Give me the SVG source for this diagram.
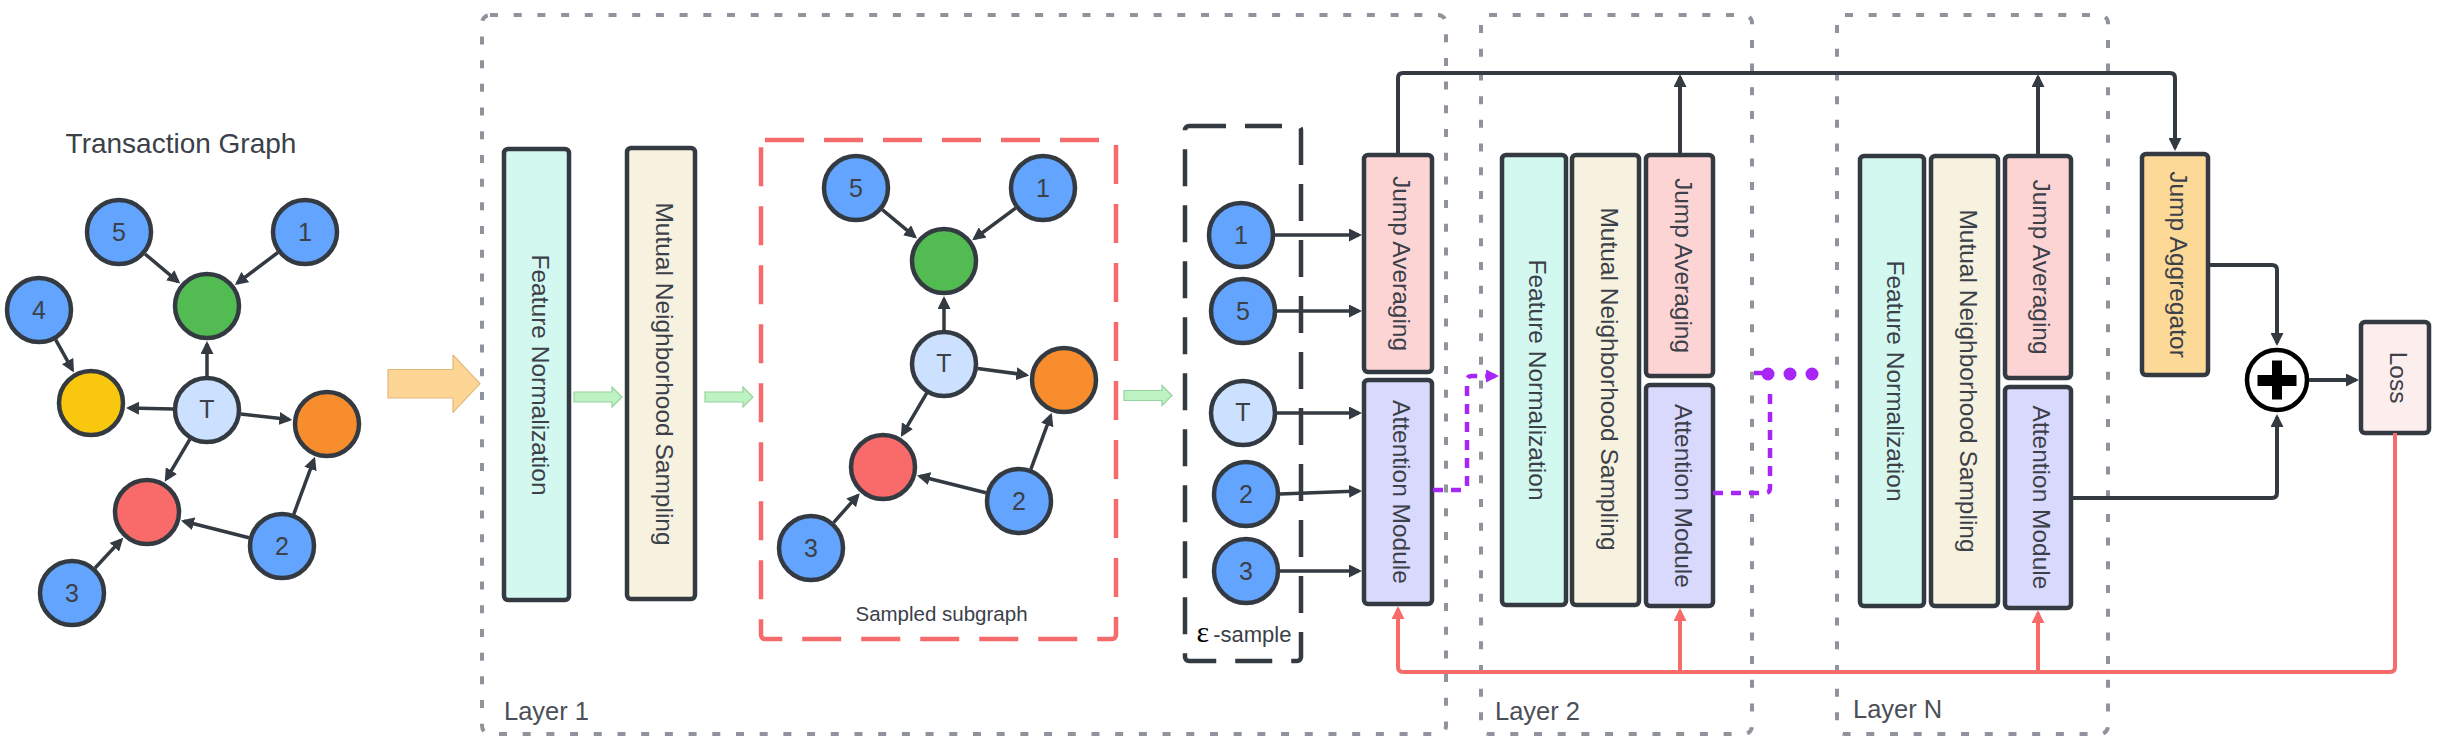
<svg xmlns="http://www.w3.org/2000/svg" width="2439" height="746" viewBox="0 0 2439 746">
<style>
text{font-family:"Liberation Sans",Arial,sans-serif;fill:#3b4049}
.lbl{font-size:24.5px;text-anchor:middle}
.num{font-size:25px;text-anchor:middle;dominant-baseline:central}
.nd{stroke:#343a41;stroke-width:4.5}
.blue{fill:#63a4ff}.tn{fill:#cce0ff}.grn{fill:#52bc52}.yel{fill:#f9c80e}.org{fill:#f78d2c}.red{fill:#f96a6a}
.box{stroke:#343a41;stroke-width:4.5}
.fn{fill:#d3f8ef}.mns{fill:#f6f2df}.ja{fill:#fdd4d4}.am{fill:#d9d9fd}
.layer{fill:none;stroke:#8f939b;stroke-width:4;stroke-dasharray:8 15.7}
.edge{fill:none;stroke:#343a41;stroke-width:3.5;marker-end:url(#ah)}
.conn{fill:none;stroke:#343a41;stroke-width:4}
.rline{fill:none;stroke:#f76b6b;stroke-width:4}
.pl{fill:none;stroke:#a725f5;stroke-width:4.5;stroke-dasharray:10 8}
.garrow{fill:#bdf2c3;stroke:#98d29f;stroke-width:1.2}
</style>
<defs>
<marker id="ah" viewBox="0 0 13 13" refX="10" refY="6.5" markerWidth="13" markerHeight="13" markerUnits="userSpaceOnUse" orient="auto"><path d="M0,0 L13,6.5 L0,13 z" fill="#343a41"/></marker>
<marker id="ahr" viewBox="0 0 13 13" refX="10" refY="6.5" markerWidth="13" markerHeight="13" markerUnits="userSpaceOnUse" orient="auto"><path d="M0,0 L13,6.5 L0,13 z" fill="#f76b6b"/></marker>
<marker id="ahp" viewBox="0 0 13 13" refX="10" refY="6.5" markerWidth="13" markerHeight="13" markerUnits="userSpaceOnUse" orient="auto"><path d="M0,0 L13,6.5 L0,13 z" fill="#a725f5"/></marker>
</defs>

<!-- Layer frames -->
<g id="layer1"><rect class="layer" x="482" y="15" width="964" height="719" rx="8"/><text x="504" y="720" style="font-size:25.5px;fill:#4a4f58">Layer 1</text></g>
<g id="layer2"><rect class="layer" x="1481" y="15" width="271" height="719" rx="8"/><text x="1495" y="720" style="font-size:25.5px;fill:#4a4f58">Layer 2</text></g>
<g id="layerN"><rect class="layer" x="1837" y="15" width="271" height="719" rx="8"/><text x="1853" y="718" style="font-size:25.5px;fill:#4a4f58">Layer N</text></g>

<!-- Transaction graph -->
<g id="transaction-graph">
<text x="181" y="153" style="font-size:28px;text-anchor:middle">Transaction Graph</text>
<g id="tg-edges">
<line class="edge" x1="145" y1="254" x2="177.9" y2="281.6"/>
<line class="edge" x1="277.9" y1="252.5" x2="237.3" y2="283.1"/>
<line class="edge" x1="55.6" y1="339.7" x2="72.5" y2="369.8"/>
<line class="edge" x1="207" y1="376" x2="207" y2="344"/>
<line class="edge" x1="173" y1="409" x2="129" y2="408"/>
<line class="edge" x1="240.8" y1="414" x2="289.3" y2="419.6"/>
<line class="edge" x1="189.8" y1="439.3" x2="166.3" y2="479.2"/>
<line class="edge" x1="249" y1="537.7" x2="183.9" y2="521.3"/>
<line class="edge" x1="293.8" y1="514.1" x2="313.9" y2="459.6"/>
<line class="edge" x1="95.1" y1="568" x2="121.2" y2="539.9"/>
</g>
<g id="tg-n5"><circle class="nd blue" cx="119" cy="232" r="32"/><text class="num" x="119" y="232">5</text></g>
<g id="tg-n1"><circle class="nd blue" cx="305" cy="232" r="32"/><text class="num" x="305" y="232">1</text></g>
<g id="tg-n4"><circle class="nd blue" cx="39" cy="310" r="32"/><text class="num" x="39" y="310">4</text></g>
<g id="tg-green"><circle class="nd grn" cx="207" cy="306" r="32"/></g>
<g id="tg-yellow"><circle class="nd yel" cx="91" cy="403" r="32"/></g>
<g id="tg-T"><circle class="nd tn" cx="207" cy="410" r="32"/><text class="num" x="207" y="409">T</text></g>
<g id="tg-orange"><circle class="nd org" cx="327" cy="424" r="32"/></g>
<g id="tg-red"><circle class="nd red" cx="147" cy="512" r="32"/></g>
<g id="tg-n2"><circle class="nd blue" cx="282" cy="546" r="32"/><text class="num" x="282" y="546">2</text></g>
<g id="tg-n3"><circle class="nd blue" cx="72" cy="593" r="32"/><text class="num" x="72" y="593">3</text></g>
</g>

<!-- Big input arrow -->
<g id="input-arrow"><path d="M388,369.5 H453 V355 L480,383.7 L453,412.4 V398 H388 Z" fill="#fdd696" stroke="#e2ba7c" stroke-width="1.2" stroke-linejoin="round"/></g>

<!-- Layer 1 blocks -->
<g id="l1-fn"><rect class="box fn" x="504" y="149" width="65" height="451" rx="4"/><text class="lbl" transform="translate(531.5,375) rotate(90)">Feature Normalization</text></g>
<g id="l1-mns"><rect class="box mns" x="627" y="148" width="68" height="451" rx="4"/><text class="lbl" transform="translate(656,374) rotate(90)">Mutual Neighborhood Sampling</text></g>

<!-- green arrows -->
<g id="green-arrows">
<path class="garrow" d="M574,392 H612 V387 L622,397 L612,407 V402 H574 Z"/>
<path class="garrow" d="M705,392 H743 V387 L753,397 L743,407 V402 H705 Z"/>
<path class="garrow" d="M1124,390.5 H1162 V385.5 L1172,395.5 L1162,405.5 V400.5 H1124 Z"/>
</g>

<!-- Sampled subgraph -->
<g id="sampled-subgraph">
<rect x="761" y="140" width="355" height="499" rx="4" fill="none" stroke="#f56a6a" stroke-width="4.5" stroke-dasharray="39 20"/>
<text x="941.5" y="621" style="font-size:20.5px;text-anchor:middle">Sampled subgraph</text>
<g id="sg-edges">
<line class="edge" x1="882.2" y1="209.7" x2="914.7" y2="236.7"/>
<line class="edge" x1="1015.6" y1="208.2" x2="974.6" y2="238.5"/>
<line class="edge" x1="944" y1="330" x2="944" y2="299"/>
<line class="edge" x1="977.7" y1="368.5" x2="1026.3" y2="375"/>
<line class="edge" x1="926.7" y1="393.2" x2="902.4" y2="434.3"/>
<line class="edge" x1="986" y1="492.7" x2="919.9" y2="476.2"/>
<line class="edge" x1="1030.9" y1="469.1" x2="1050.7" y2="415.6"/>
<line class="edge" x1="833.6" y1="522.6" x2="857.8" y2="495.4"/>
</g>
<g id="sg-n5"><circle class="nd blue" cx="856" cy="188" r="32"/><text class="num" x="856" y="188">5</text></g>
<g id="sg-n1"><circle class="nd blue" cx="1043" cy="188" r="32"/><text class="num" x="1043" y="188">1</text></g>
<g id="sg-green"><circle class="nd grn" cx="944" cy="261" r="32"/></g>
<g id="sg-T"><circle class="nd tn" cx="944" cy="364" r="32"/><text class="num" x="944" y="363">T</text></g>
<g id="sg-orange"><circle class="nd org" cx="1064" cy="380" r="32"/></g>
<g id="sg-red"><circle class="nd red" cx="883" cy="467" r="32"/></g>
<g id="sg-n2"><circle class="nd blue" cx="1019" cy="501" r="32"/><text class="num" x="1019" y="501">2</text></g>
<g id="sg-n3"><circle class="nd blue" cx="811" cy="548" r="32"/><text class="num" x="811" y="548">3</text></g>
</g>

<!-- epsilon sample -->
<g id="eps-sample">
<rect x="1185" y="126" width="116" height="535" rx="4" fill="none" stroke="#343a41" stroke-width="4.5" stroke-dasharray="37 19"/>
<text x="1244" y="642" style="text-anchor:middle"><tspan style="font-family:'Liberation Serif','DejaVu Serif',serif;font-size:30px;fill:#000">ε</tspan><tspan style="font-size:22px" dx="4">-sample</tspan></text>
<g id="eps-n1"><circle class="nd blue" cx="1241" cy="235" r="32"/><text class="num" x="1241" y="235">1</text></g>
<g id="eps-n5"><circle class="nd blue" cx="1243" cy="311" r="32"/><text class="num" x="1243" y="311">5</text></g>
<g id="eps-T"><circle class="nd tn" cx="1243" cy="413" r="32"/><text class="num" x="1243" y="412">T</text></g>
<g id="eps-n2"><circle class="nd blue" cx="1246" cy="494" r="32"/><text class="num" x="1246" y="494">2</text></g>
<g id="eps-n3"><circle class="nd blue" cx="1246" cy="571" r="32"/><text class="num" x="1246" y="571">3</text></g>
</g>

<g id="l1-ja"><rect class="box ja" x="1364" y="155" width="68" height="217" rx="4"/><text class="lbl" transform="translate(1393,263.5) rotate(90)">Jump Averaging</text></g>
<g id="l1-am"><rect class="box am" x="1364" y="380" width="68" height="224" rx="4"/><text class="lbl" transform="translate(1393,492) rotate(90)">Attention Module</text></g>

<!-- Layer 2 blocks -->
<g id="l2-fn"><rect class="box fn" x="1502" y="155" width="64" height="450" rx="4"/><text class="lbl" transform="translate(1529,380) rotate(90)">Feature Normalization</text></g>
<g id="l2-mns"><rect class="box mns" x="1572" y="155" width="67" height="450" rx="4"/><text class="lbl" transform="translate(1600.5,379) rotate(90)">Mutual Neighborhood Sampling</text></g>
<g id="l2-ja"><rect class="box ja" x="1646" y="155" width="67" height="221" rx="4"/><text class="lbl" transform="translate(1674.5,265.5) rotate(90)">Jump Averaging</text></g>
<g id="l2-am"><rect class="box am" x="1646" y="385" width="67" height="221" rx="4"/><text class="lbl" transform="translate(1674.5,496) rotate(90)">Attention Module</text></g>

<!-- Layer N blocks -->
<g id="ln-fn"><rect class="box fn" x="1860" y="156" width="64" height="450" rx="4"/><text class="lbl" transform="translate(1887,381) rotate(90)">Feature Normalization</text></g>
<g id="ln-mns"><rect class="box mns" x="1931" y="156" width="67" height="450" rx="4"/><text class="lbl" transform="translate(1959.5,381) rotate(90)">Mutual Neighborhood Sampling</text></g>
<g id="ln-ja"><rect class="box ja" x="2005" y="156" width="66" height="222" rx="4"/><text class="lbl" transform="translate(2033,267) rotate(90)">Jump Averaging</text></g>
<g id="ln-am"><rect class="box am" x="2005" y="387" width="66" height="221" rx="4"/><text class="lbl" transform="translate(2033,497.5) rotate(90)">Attention Module</text></g>

<!-- Jump aggregator, plus, loss -->
<g id="jump-aggregator"><rect class="box" fill="#fdd998" x="2142" y="154" width="66" height="221" rx="4"/><text class="lbl" transform="translate(2170,264.5) rotate(90)">Jump Aggregator</text></g>
<g id="plus"><circle cx="2277" cy="380" r="30" fill="#fff" stroke="#000" stroke-width="4.5"/><rect x="2257.5" y="375" width="39" height="11" fill="#000"/><rect x="2272" y="360.5" width="10" height="39" fill="#000"/></g>
<g id="loss"><rect class="box" fill="#fdeeee" x="2361" y="322" width="68" height="111" rx="4"/><text class="lbl" transform="translate(2390,377.5) rotate(90)">Loss</text></g>

<!-- Connectors -->
<g id="connectors">
<line class="edge" x1="1275" y1="235" x2="1359" y2="235"/>
<line class="edge" x1="1277" y1="311" x2="1359" y2="311"/>
<line class="edge" x1="1277" y1="413" x2="1359" y2="413"/>
<line class="edge" x1="1280" y1="494" x2="1359" y2="491"/>
<line class="edge" x1="1280" y1="571" x2="1359" y2="571"/>
<path class="conn" d="M1398,155 V78 Q1398,73 1403,73 H2170 Q2175,73 2175,78 V148" marker-end="url(#ah)"/>
<path class="conn" d="M1680,155 V77" marker-end="url(#ah)"/>
<path class="conn" d="M2038,156 V77" marker-end="url(#ah)"/>
<path class="conn" d="M2208,265 H2272 Q2277,265 2277,270 V343" marker-end="url(#ah)"/>
<path class="conn" d="M2071,498 H2272 Q2277,498 2277,493 V417" marker-end="url(#ah)"/>
<path class="conn" d="M2309,380 H2356" marker-end="url(#ah)"/>
<path class="rline" d="M2395,433 V667 Q2395,672 2390,672 H1403 Q1398,672 1398,667 V609" marker-end="url(#ahr)"/>
<path class="rline" d="M1680,672 V611" marker-end="url(#ahr)"/>
<path class="rline" d="M2038,672 V613" marker-end="url(#ahr)"/>
<path class="pl" d="M1433,490 H1462 Q1467,490 1467,485 V381 Q1467,376 1472,376 H1496" marker-end="url(#ahp)"/>
<path class="pl" d="M1713,493 H1765 Q1770,493 1770,488 V388"/>
<line x1="1754" y1="373" x2="1768" y2="373" stroke="#a725f5" stroke-width="4.5"/>
<circle cx="1768" cy="374" r="6.5" fill="#a725f5"/>
<circle cx="1790" cy="374" r="6.5" fill="#a725f5"/>
<circle cx="1812" cy="374" r="6.5" fill="#a725f5"/>
</g>
</svg>
